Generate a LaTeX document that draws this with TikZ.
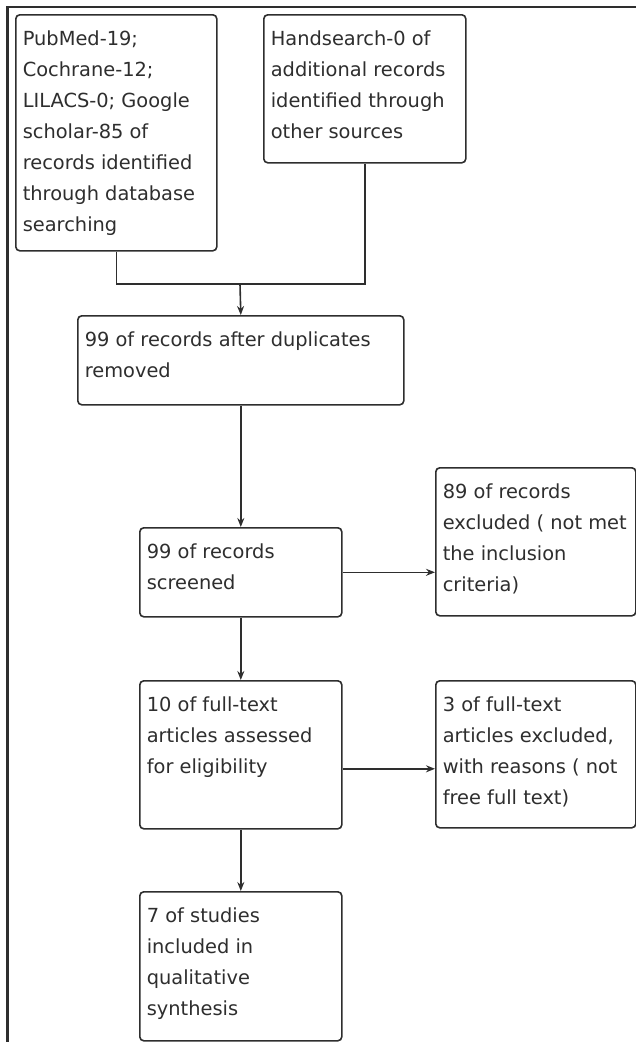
\documentclass[tikz,border=0pt]{standalone}
\usepackage{fontspec}
\setmainfont{DejaVu Sans}
\usetikzlibrary{arrows.meta,calc}
\definecolor{ink}{HTML}{2E2E2E}
\newcommand{\boxtxt}[3]{\parbox[c][#2pt][t]{\dimexpr#1pt-14pt\relax}{\raggedright\fontsize{19.4}{31}\selectfont\rule{0pt}{31pt}#3}}
\begin{document}
\begin{tikzpicture}[x=1pt,y=-1pt,
  box/.style={draw=ink, line width=1.6pt, rounded corners=4pt, inner sep=0pt, inner xsep=7pt, anchor=north west, fill=white, text=ink},
  conn/.style={draw=ink, line width=1.6pt},
  arr/.style={draw=ink, line width=1.6pt, -{Stealth[length=9pt,width=7pt]}}]
\useasboundingbox (0,0) rectangle (636,1042);
\draw[ink, line width=2.2pt] (636,7) -- (7.5,7) -- (7.5,1042);

\node[box] (b1) at (15,14) {\boxtxt{201}{236}{PubMed-19;\\Cochrane-12;\\LILACS-0; Google\\scholar-85 of\\records identified\\through database\\searching}};
\node[box] (b2) at (263,14) {\boxtxt{202}{148}{Handsearch-0 of\\additional records\\identified through\\other sources}};
\node[box] (b3) at (77,315) {\boxtxt{326}{89}{99 of records after duplicates\\removed}};
\node[box] (b4) at (139,527) {\boxtxt{202}{89}{99 of records\\screened}};
\node[box] (b5) at (435,467) {\boxtxt{200}{148}{89 of records\\excluded ( not met\\the inclusion\\criteria)}};
\node[box] (b6) at (139,680) {\boxtxt{202}{148}{10 of full-text\\articles assessed\\for eligibility}};
\node[box] (b7) at (435,680) {\boxtxt{200}{147}{3 of full-text\\articles excluded,\\with reasons ( not\\free full text)}};
\node[box] (b8) at (139,891) {\boxtxt{202}{149}{7 of studies\\included in\\qualitative\\synthesis}};

\coordinate (J) at (240,284);
\draw[conn] (b1.south) |- (J);
\draw[conn] (b2.south) |- (J);
\draw[arr] (J) -- (b3.north);
\draw[arr] (b3.south) -- (b4.north);
\draw[arr] (b4.east) -- (b4.east -| b5.west);
\draw[arr] (b4.south) -- (b6.north);
\coordinate (a6) at ([yshift=-14pt]b6.east);
\draw[arr] (a6) -- (a6 -| b7.west);
\draw[arr] (b6.south) -- (b8.north);
\end{tikzpicture}
\end{document}
